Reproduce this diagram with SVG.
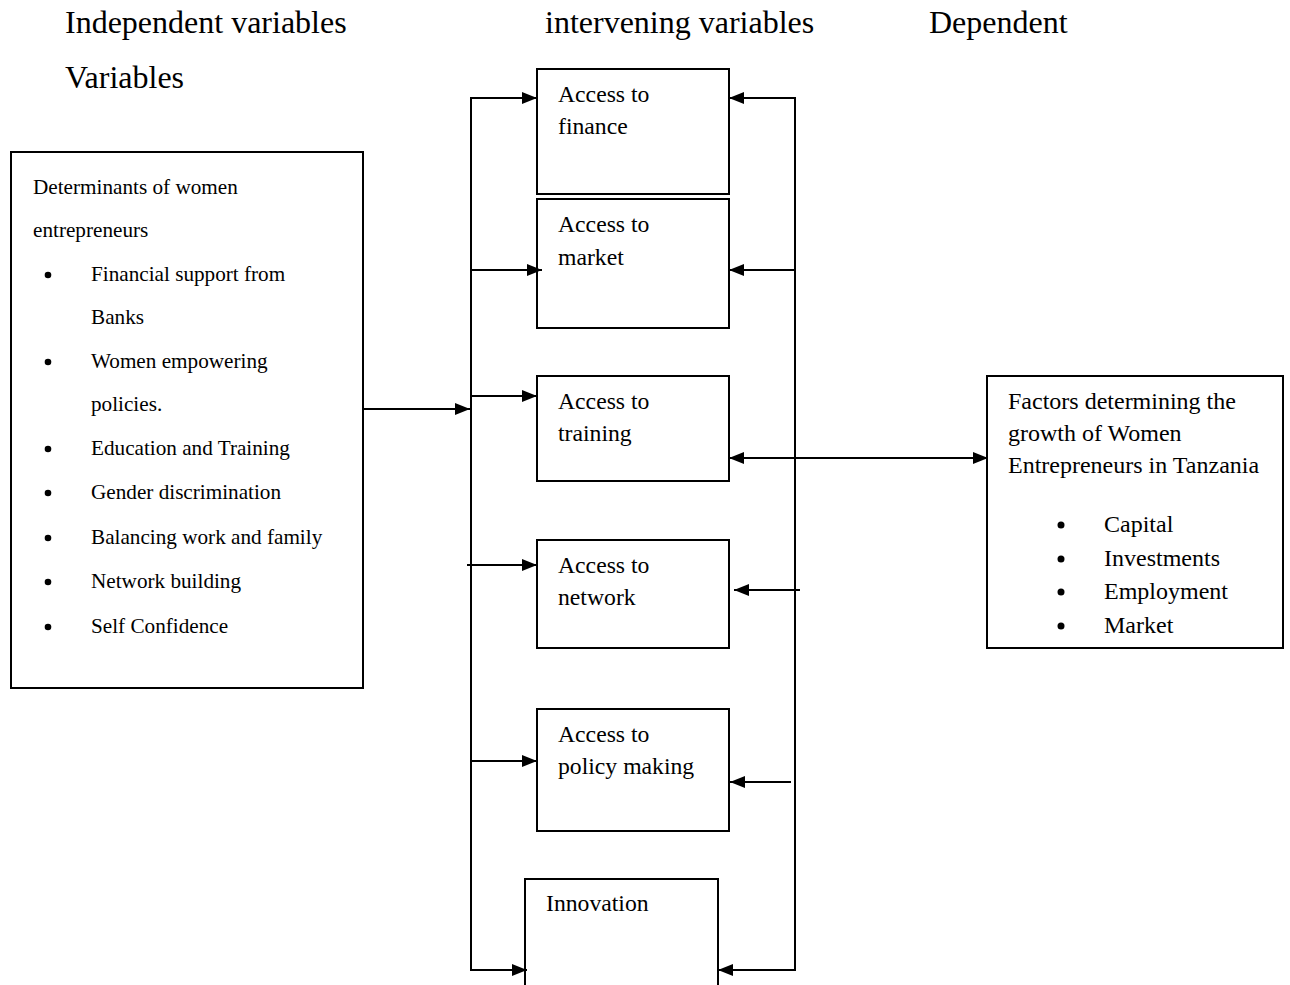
<svg xmlns="http://www.w3.org/2000/svg" width="1290" height="985" viewBox="0 0 1290 985">
<style>
text{font-family:"Liberation Serif","Times New Roman",serif;fill:#000}
.h{font-size:32px}
.l{font-size:21.2px}
.m{font-size:23.7px}
.r{font-size:24px}
.box{fill:#fff;stroke:#000;stroke-width:2}
.ln{fill:none;stroke:#000;stroke-width:2}
.ar{fill:none;stroke:#000;stroke-width:2;marker-end:url(#ah)}
</style>
<defs>
<marker id="ah" viewBox="0 0 15 12" refX="15" refY="6" markerWidth="15" markerHeight="12" markerUnits="userSpaceOnUse" orient="auto-start-reverse">
<path d="M0,0 L15,6 L0,12 z" fill="#000"/>
</marker>
</defs>
<rect width="1290" height="985" fill="#fff"/>
<g id="headers">
<text class="h" x="65" y="33">Independent variables</text>
<text class="h" x="65" y="88">Variables</text>
<text class="h" x="545" y="33">intervening variables</text>
<text class="h" x="929" y="33">Dependent</text>
</g>
<g id="determinants">
<rect class="box" x="11" y="152" width="352" height="536"/>
<text class="l" x="33" y="194">Determinants of women</text>
<text class="l" x="33" y="237">entrepreneurs</text>
<g>
<circle cx="48" cy="275" r="3.3"/><text class="l" x="91" y="281">Financial support from</text>
<text class="l" x="91" y="324">Banks</text>
<circle cx="48" cy="362" r="3.3"/><text class="l" x="91" y="368">Women empowering</text>
<text class="l" x="91" y="411">policies.</text>
<circle cx="48" cy="449" r="3.3"/><text class="l" x="91" y="455">Education and Training</text>
<circle cx="48" cy="493" r="3.3"/><text class="l" x="91" y="499">Gender discrimination</text>
<circle cx="48" cy="538" r="3.3"/><text class="l" x="91" y="544">Balancing work and family</text>
<circle cx="48" cy="582" r="3.3"/><text class="l" x="91" y="588">Network building</text>
<circle cx="48" cy="627" r="3.3"/><text class="l" x="91" y="633">Self Confidence</text>
</g>
</g>
<g id="finance">
<rect class="box" x="537" y="69" width="192" height="125"/>
<text class="m" x="558" y="102">Access to</text>
<text class="m" x="558" y="134">finance</text>
</g>
<g id="market">
<rect class="box" x="537" y="199" width="192" height="129"/>
<text class="m" x="558" y="232">Access to</text>
<text class="m" x="558" y="265">market</text>
</g>
<g id="training">
<rect class="box" x="537" y="376" width="192" height="105"/>
<text class="m" x="558" y="409">Access to</text>
<text class="m" x="558" y="441">training</text>
</g>
<g id="network">
<rect class="box" x="537" y="540" width="192" height="108"/>
<text class="m" x="558" y="573">Access to</text>
<text class="m" x="558" y="605">network</text>
</g>
<g id="policy">
<rect class="box" x="537" y="709" width="192" height="122"/>
<text class="m" x="558" y="742">Access to</text>
<text class="m" x="558" y="774">policy making</text>
</g>
<g id="innovation">
<rect class="box" x="525" y="879" width="193" height="120"/>
<text class="m" x="546" y="911">Innovation</text>
</g>
<g id="growth">
<rect class="box" x="987" y="376" width="296" height="272"/>
<text class="r" x="1008" y="409">Factors determining the</text>
<text class="r" x="1008" y="441">growth of Women</text>
<text class="r" x="1008" y="473">Entrepreneurs in Tanzania</text>
<circle cx="1061" cy="525" r="3.5"/><text class="r" x="1104" y="532">Capital</text>
<circle cx="1061" cy="559" r="3.5"/><text class="r" x="1104" y="566">Investments</text>
<circle cx="1061" cy="592" r="3.5"/><text class="r" x="1104" y="599">Employment</text>
<circle cx="1061" cy="626" r="3.5"/><text class="r" x="1104" y="633">Market</text>
</g>
<g id="connectors">
<path class="ln" d="M471,97 V970"/>
<path class="ln" d="M795,97 V970"/>
<path class="ar" d="M363,409 H470"/>
<path class="ar" d="M470,98 H537"/>
<path class="ar" d="M470,270 H542"/>
<path class="ar" d="M470,396 H537"/>
<path class="ar" d="M467,565 H537"/>
<path class="ar" d="M470,761 H537"/>
<path class="ar" d="M470,970 H527"/>
<path class="ar" d="M796,98 H729"/>
<path class="ar" d="M796,270 H729"/>
<path class="ar" d="M729,458 H988" style="marker-start:url(#ah)"/>
<path class="ar" d="M800,590 H734"/>
<path class="ar" d="M791,782 H730"/>
<path class="ar" d="M796,970 H718"/>
</g>
</svg>
